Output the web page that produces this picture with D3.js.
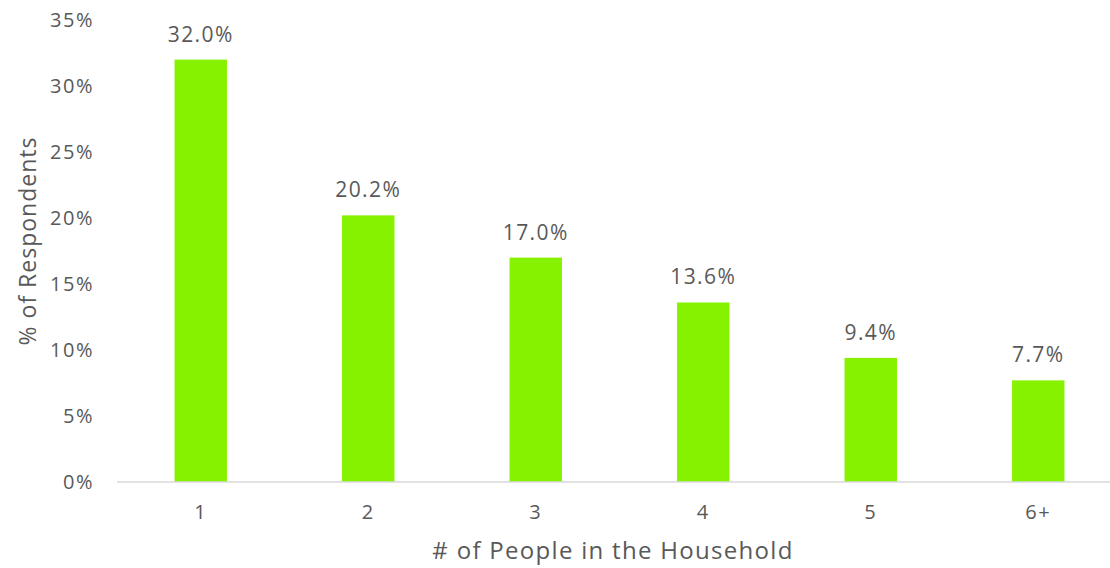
<!DOCTYPE html>
<html>
<head>
<meta charset="utf-8">
<script src="https://cdn.jsdelivr.net/npm/d3@7"></script>
<style>
  body { margin: 0; background: #fff; }
  text { font-family: "Century Gothic", "Open Sans", "DejaVu Sans", sans-serif; fill: #595959; }
</style>
</head>
<body>
<div id="chart"></div>
<script>
// chart values
const categories = ['1', '2', '3', '4', '5', '6+'];
const shares = [32.0, 20.2, 17.0, 13.6, 9.4, 7.7];
const yTicks = [0, 5, 10, 15, 20, 25, 30, 35];

const config = {
  width: 1110,
  height: 568,
  margin: { top: 20, right: -12, bottom: 86, left: 117 }
};

const innerW = config.width - config.margin.left - config.margin.right;
const innerH = config.height - config.margin.top - config.margin.bottom;

const svg = d3.select('#chart').append('svg')
  .attr('width', config.width)
  .attr('height', config.height);

const chart = svg.append('g')
  .attr('transform', `translate(${config.margin.left},${config.margin.top})`);

const x = d3.scaleBand()
  .domain(categories)
  .range([0, innerW])
  .paddingInner(0.687)
  .paddingOuter(0.3435);

const y = d3.scaleLinear()
  .domain([0, 35])
  .range([innerH, 0]);

// y tick labels (no axis line)
chart.selectAll('.y-label')
  .data(yTicks)
  .join('text')
  .attr('class', 'y-label')
  .attr('x', -23)
  .attr('y', d => y(d))
  .attr('dy', '0.35em')
  .attr('text-anchor', 'end')
  .style('font-size', '20px')
  .style('letter-spacing', '1.5px')
  .text(d => d + '%');

// bars
chart.selectAll('.bar')
  .data(shares)
  .join('rect')
  .attr('class', 'bar')
  .attr('x', (d, i) => x(categories[i]))
  .attr('width', x.bandwidth())
  .attr('y', d => y(d))
  .attr('height', d => innerH - y(d))
  .attr('fill', '#86f200');

// baseline
chart.append('line')
  .attr('x1', 0)
  .attr('x2', innerW)
  .attr('y1', innerH)
  .attr('y2', innerH)
  .attr('stroke', '#d9d9d9')
  .attr('stroke-width', 1.5);

// data labels
chart.selectAll('.value-label')
  .data(shares)
  .join('text')
  .attr('class', 'value-label')
  .attr('x', (d, i) => x(categories[i]) + x.bandwidth() / 2)
  .attr('y', d => y(d) - 18)
  .attr('text-anchor', 'middle')
  .style('font-size', '21px')
  .style('letter-spacing', '1.4px')
  .text(d => d.toFixed(1) + '%');

// x tick labels
chart.selectAll('.x-label')
  .data(categories)
  .join('text')
  .attr('class', 'x-label')
  .attr('x', d => x(d) + x.bandwidth() / 2)
  .attr('y', innerH + 30)
  .attr('dy', '0.35em')
  .attr('text-anchor', 'middle')
  .style('font-size', '20px')
  .style('letter-spacing', '1.5px')
  .text(d => d);

// axis titles
svg.append('text')
  .attr('x', 613)
  .attr('y', 551)
  .attr('dy', '0.35em')
  .attr('text-anchor', 'middle')
  .style('font-size', '24px')
  .style('letter-spacing', '1.3px')
  .text('# of People in the Household');

svg.append('text')
  .attr('transform', 'translate(28,241) rotate(-90)')
  .attr('dy', '0.35em')
  .attr('text-anchor', 'middle')
  .style('font-size', '23px')
  .style('letter-spacing', '1px')
  .text('% of Respondents');
</script>
</body>
</html>
